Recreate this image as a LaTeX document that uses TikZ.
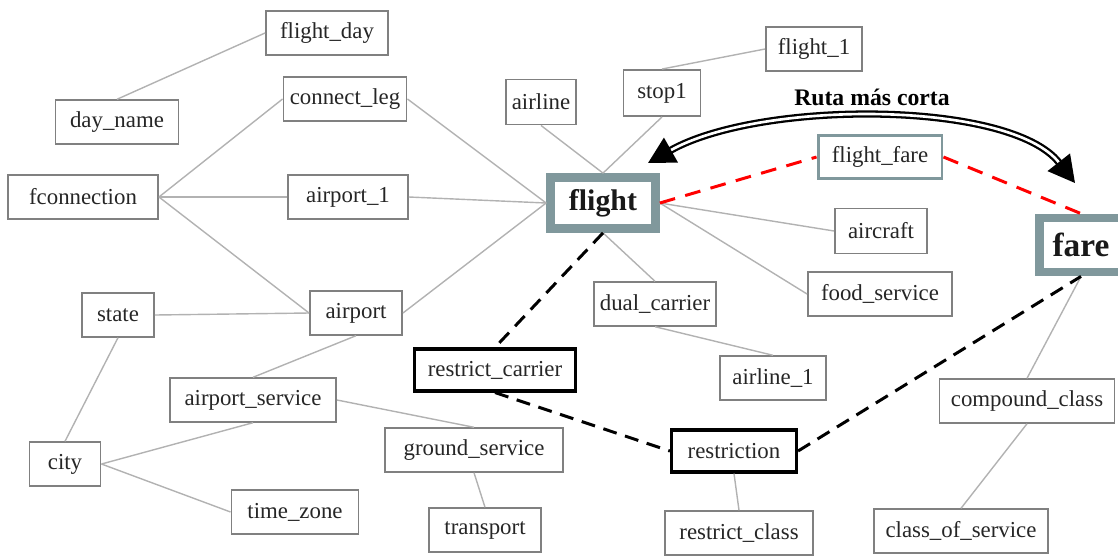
\documentclass[tikz,border=0pt]{standalone}
\usepackage{fontspec}
\setmainfont{Liberation Serif}
\usetikzlibrary{positioning, arrows.meta}
\definecolor{grisazul}{RGB}{128,152,156}

\begin{document}
\begin{tikzpicture}[x=0.02cm, y=-0.02cm,
    tabla/.style={draw=black!50, line width=1.1pt, fill=white, text=black!85, font=\fontsize{13}{15}\selectfont, minimum height=0.87cm, inner sep=0pt},
    principal/.style={draw=grisazul, line width=5pt, fill=white, text=black!90, font=\bfseries\fontsize{17}{19}\selectfont, inner sep=0pt},
    ruta/.style={tabla, draw=black, line width=1.8pt},
    enlace/.style={draw=black!30, line width=0.8pt},
    atajo/.style={draw=black, line width=1.7pt, dash pattern=on 8pt off 5pt},
    union/.style={draw=red, line width=1.7pt, dash pattern=on 9pt off 6pt}]
    \useasboundingbox (0,0) rectangle (1118,555); % image frame

    % tables
    \node[tabla, minimum width=2.44cm] (flight_day) at (327,33) {flight\_day};
    \node[tabla, minimum width=2.46cm] (day_name) at (117,122) {day\_name};
    \node[tabla, minimum width=2.46cm] (connect_leg) at (345,99) {connect\_leg};
    \node[tabla, minimum width=3.0cm] (fconnection) at (83,197) {fconnection};
    \node[tabla, minimum width=2.4cm] (airport_1) at (348,197) {airport\_1};
    \node[tabla, minimum width=1.4cm, minimum height=0.9cm] (airline) at (541,102) {airline};
    \node[tabla, minimum width=1.54cm, minimum height=0.92cm] (stop1) at (662,93) {stop1};
    \node[tabla, minimum width=1.92cm] (flight_1) at (814,49) {flight\_1};
    \node[tabla, draw=grisazul, line width=1.7pt, minimum width=2.48cm] (flight_fare) at (880,157) {flight\_fare};
    \node[tabla, minimum width=1.84cm, minimum height=0.9cm] (aircraft) at (881,231) {aircraft};
    \node[tabla, minimum width=2.88cm] (food_service) at (880,294) {food\_service};
    \node[tabla, minimum width=2.44cm] (dual_carrier) at (655,304) {dual\_carrier};
    \node[tabla, minimum width=1.84cm] (airport) at (356,313) {airport};
    \node[tabla, minimum width=1.44cm] (state) at (118,315) {state};
    \node[ruta, minimum width=3.22cm, minimum height=0.84cm] (restrict_carrier) at (495,370) {restrict\_carrier};
    \node[tabla, minimum width=2.12cm] (airline_1) at (773,378) {airline\_1};
    \node[tabla, minimum width=3.32cm] (airport_service) at (253,400) {airport\_service};
    \node[tabla, minimum width=3.5cm] (compound_class) at (1027,401) {compound\_class};
    \node[tabla, minimum width=3.56cm] (ground_service) at (474,450) {ground\_service};
    \node[ruta, minimum width=2.5cm, minimum height=0.84cm] (restriction) at (734,451) {restriction};
    \node[tabla, minimum width=1.42cm] (city) at (65,464) {city};
    \node[tabla, minimum width=2.54cm] (time_zone) at (295,512) {time\_zone};
    \node[tabla, minimum width=2.24cm] (transport) at (485,530) {transport};
    \node[tabla, minimum width=2.96cm] (restrict_class) at (739,533) {restrict\_class};
    \node[tabla, minimum width=3.48cm] (class_of_service) at (961,531) {class\_of\_service};

    % the two end tables
    \node[principal, minimum width=2.1cm, minimum height=1.02cm] (flight) at (603,203) {flight};
    \node[principal, minimum width=1.66cm, minimum height=1.08cm, font=\bfseries\fontsize{19}{21}\selectfont] (fare) at (1081,245) {fare};

    % plain links
    \draw[enlace] (day_name.north) -- (flight_day.west);
    \draw[enlace] (fconnection.east) -- (connect_leg.west);
    \draw[enlace] (fconnection.east) -- (airport_1.west);
    \draw[enlace] (fconnection.east) -- (airport.west);
    \draw[enlace] (connect_leg.east) -- (flight.west);
    \draw[enlace] (airport_1.east) -- (flight.west);
    \draw[enlace] (airport.east) -- (flight.west);
    \draw[enlace] (airline.south) -- (flight.north);
    \draw[enlace] (stop1.south) -- (flight.north);
    \draw[enlace] (stop1.north) -- (flight_1.west);
    \draw[enlace] (flight.east) -- (aircraft.west);
    \draw[enlace] (flight.east) -- (food_service.west);
    \draw[enlace] (flight.south) -- (dual_carrier.north);
    \draw[enlace] (dual_carrier.south) -- (airline_1.north);
    \draw[enlace] (state.east) -- (airport.west);
    \draw[enlace] (state.south) -- (city.north);
    \draw[enlace] (airport.south) -- (airport_service.north);
    \draw[enlace] (airport_service.south) -- (city.east);
    \draw[enlace] (city.east) -- (time_zone.west);
    \draw[enlace] (airport_service.east) -- (ground_service.north);
    \draw[enlace] (ground_service.south) -- (transport.north);
    \draw[enlace] (restriction.south) -- (restrict_class.north);
    \draw[enlace] (fare.south) -- (compound_class.north);
    \draw[enlace] (compound_class.south) -- (class_of_service.north);

    % long path through restrictions
    \draw[atajo] (flight.south) -- (restrict_carrier.north);
    \draw[atajo] (restrict_carrier.south) -- (restriction.west);
    \draw[atajo] (restriction.east) -- (fare.south);

    % short path
    \draw[union] (flight.east) -- (flight_fare.west);
    \draw[union] (flight_fare.east) -- (fare.north);

    % arrow over the short path
    \coordinate (puntaA) at (648,163);
    \coordinate (puntaB) at (1075,183);
    \draw[double, line width=1.3pt, double distance=1.5pt, {Triangle[length=15pt, width=16pt]}-{Triangle[length=15pt, width=16pt]}]
        (puntaA) .. controls (760,100) and (1010,100) .. (puntaB);
    \node[font=\bfseries\fontsize{13.5}{15}\selectfont] (titulo) at (872,97) {Ruta más corta};
\end{tikzpicture}
\end{document}
